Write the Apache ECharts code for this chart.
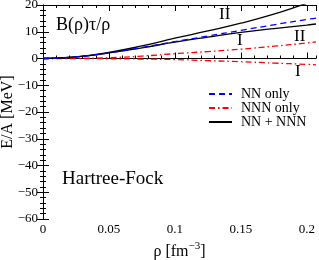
<!DOCTYPE html>
<html><head><meta charset="utf-8">
<script src="https://cdn.jsdelivr.net/npm/echarts@6/dist/echarts.min.js"></script>
<style>html,body{margin:0;padding:0;background:#fff}#c{width:319px;height:260px}</style>
</head><body><div id="c"></div>
<script>
const rho = [0, 0.025, 0.05, 0.075, 0.1, 0.125, 0.15, 0.175, 0.2, 0.207];
const nnOnly = [0, 0.6, 2.1, 4.1, 6.3, 8.4, 10.5, 12.6, 14.6, 15.1];
const nnnOnlyII = [0, 0.05, 0.3, 0.9, 1.8, 2.6, 3.5, 4.6, 5.8, 6.2];
const nnnOnlyI = [0, 0, -0.1, -0.2, -0.4, -0.8, -1.2, -1.7, -2.2, -2.4];
const totalII = [0, 0.6, 2.3, 4.7, 7.6, 10.3, 13.2, 16.6, 20.6, 21.6];
const totalI = [0, 0.6, 2.1, 4.0, 6.1, 8.0, 9.8, 11.2, 12.5, 12.9];
const xTickLabels = ['0', '0.05', '0.1', '0.15', '0.2'];

const pairs = v => rho.map((r, i) => [r, v[i]]);
const F = 'Liberation Serif';
const chart = echarts.init(document.getElementById('c'));
const xBase = {type: 'value', min: 0, max: 0.207, splitLine: {show: false}};
const majorX = (pos, labels) => Object.assign({}, xBase, {
  position: pos, interval: 0.05,
  axisLine: {show: true, lineStyle: {color: '#000', width: 1}},
  axisTick: {show: true, inside: true, length: 6, lineStyle: {color: '#000'}},
  axisLabel: labels ? {show: true, color: '#000', fontFamily: F, fontSize: 13, margin: 4, showMaxLabel: false,
    formatter: v => { const k = Math.round(v / 0.05); return Math.abs(v - k * 0.05) < 1e-6 ? xTickLabels[k] : ''; }} : {show: false}
});
const minorX = pos => Object.assign({}, xBase, {
  position: pos, interval: 0.01,
  axisLine: {show: false},
  axisTick: {show: true, inside: true, length: 3, lineStyle: {color: '#000'}},
  axisLabel: {show: false}
});
const yAx = (pos, labels) => ({
  type: 'value', position: pos, min: -60, max: 20, interval: 10,
  axisLine: {show: true, lineStyle: {color: '#000', width: 1}},
  axisTick: {show: true, inside: true, length: 6, lineStyle: {color: '#000'}},
  minorTick: {show: true, splitNumber: 5, length: 3, lineStyle: {color: '#000'}},
  splitLine: {show: false},
  axisLabel: labels ? {show: true, color: '#000', fontFamily: F, fontSize: 13, margin: 5,
    formatter: v => String(v).replace('-', '\u2212')} : {show: false}
});
const xa0 = majorX('bottom', true);
xa0.name = 'ρ [fm{sup|\u22123}]';
xa0.nameLocation = 'middle';
xa0.nameGap = 22;
xa0.nameMoveOverlap = false;
xa0.nameTextStyle = {color: '#000', fontFamily: F, fontSize: 16,
  rich: {sup: {fontFamily: F, fontSize: 11, verticalAlign: 'top', padding: [0, 0, 10, 0], color: '#000'}}};
const ya0 = yAx('left', true);
ya0.name = 'E/A [MeV]';
ya0.nameLocation = 'middle';
ya0.nameRotate = 90;
ya0.nameGap = 27;
ya0.nameMoveOverlap = false;
ya0.nameTextStyle = {color: '#000', fontFamily: F, fontSize: 16};

const line = (name, data, color, type, z) => ({
  name, type: 'line', data: pairs(data), xAxisIndex: 0, yAxisIndex: 0,
  showSymbol: false, symbol: 'none', smooth: true, clip: true, z: z || 2,
  lineStyle: {color, width: 1.3, type}, itemStyle: {color}
});

chart.setOption({
  animation: false,
  grid: {left: 43, right: 3, top: 5, bottom: 41, containLabel: false, outerBoundsMode: 'none'},
  xAxis: [xa0, minorX('bottom'), majorX('top', false), minorX('top')],
  yAxis: [ya0, yAx('right', false)],
  legend: {
    data: ['NN only', 'NNN only', 'NN + NNN'],
    orient: 'vertical', left: 203, top: 82, itemWidth: 23, itemHeight: 8, itemGap: 0,
    itemStyle: {opacity: 0},
    textStyle: {color: '#000', fontFamily: F, fontSize: 14, padding: [0, 0, 0, 4]}
  },
  series: [
    {name: 'zero', type: 'line', data: [[0, 0], [0.207, 0]], showSymbol: false, symbol: 'none', z: 1,
      lineStyle: {color: '#000', width: 1, type: [1, 2]}},
    line('NN only', nnOnly, '#0000ff', [6, 4], 3),
    line('NNN only', nnnOnlyII, '#ff0000', [6, 3, 1.5, 3]),
    line('NNN only', nnnOnlyI, '#ff0000', [6, 3, 1.5, 3]),
    line('NN + NNN', totalII, '#000', 'solid'),
    line('NN + NNN', totalI, '#000', 'solid')
  ],
  graphic: [
    {type: 'text', left: 56, top: 16, style: {text: 'B(ρ)τ/ρ', font: '18px "Liberation Serif"', fill: '#000'}},
    {type: 'text', left: 62, top: 170, style: {text: 'Hartree-Fock', font: '19px "Liberation Serif"', fill: '#000'}},
    {type: 'text', left: 219, top: 6, style: {text: 'II', font: '17px "Liberation Serif"', fill: '#000'}},
    {type: 'text', left: 237, top: 32, style: {text: 'I', font: '17px "Liberation Serif"', fill: '#000'}},
    {type: 'text', left: 294, top: 28, style: {text: 'II', font: '17px "Liberation Serif"', fill: '#000'}},
    {type: 'text', left: 295, top: 63, style: {text: 'I', font: '17px "Liberation Serif"', fill: '#000'}}
  ]
});
</script></body></html>
